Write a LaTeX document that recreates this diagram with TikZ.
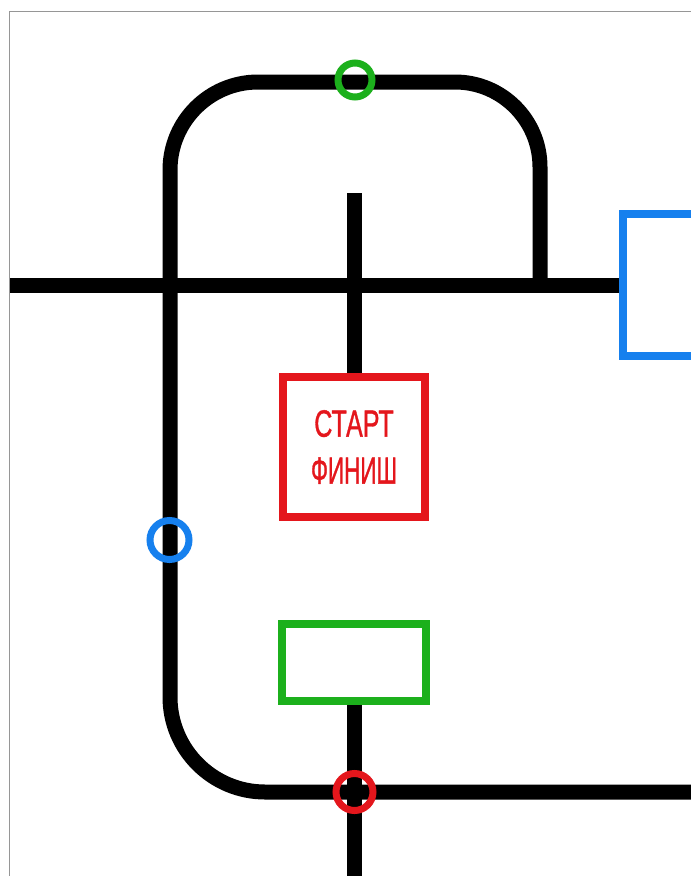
\documentclass[tikz,border=0pt]{standalone}
\usepackage{fontspec}
\setmainfont{Liberation Sans}
\newfontfamily\signfont[FakeBold=1.2]{Liberation Sans}
\usetikzlibrary{backgrounds}
\definecolor{trackred}{RGB}{228,22,28}
\definecolor{trackgreen}{RGB}{28,176,28}
\definecolor{trackblue}{RGB}{22,128,238}
\definecolor{framegray}{RGB}{150,150,150}
\begin{document}
\begin{tikzpicture}[x=1pt,y=-1pt,
  track/.style={line width=15pt, black},
  boxbase/.style={rectangle, draw, line width=8pt, outer sep=0pt, inner sep=0pt},
  redbox/.style={boxbase, draw=trackred, text=trackred, align=center,
                 font=\signfont\fontsize{38pt}{47pt}\selectfont},
  greenbox/.style={boxbase, draw=trackgreen},
  bluebox/.style={boxbase, draw=trackblue},
  marker/.style={circle, draw, line width=7pt, outer sep=0pt, inner sep=0pt}]
\useasboundingbox (0,0) rectangle (691,876);
\clip (0,0) rectangle (691,876);

% nodes
\node[redbox, minimum width=142pt, minimum height=140pt] (start) at (354,447)
  {\scalebox{0.66}[1]{СТАРТ}\\\scalebox{0.59}[1]{ФИНИШ}};
\node[greenbox, minimum width=144pt, minimum height=77pt] (garage) at (354,662.5) {};
\node[bluebox, minimum width=160pt, minimum height=142pt, anchor=west] (zone) at (623,285) {};

\coordinate (hl) at (10,285);
\coordinate (rv) at (540,292.5);
\coordinate (le) at (700,792);
\coordinate (tv) at (354,193);
\coordinate (bv) at (354,890);

\begin{scope}[on background layer]
  \fill[white] (0,0) rectangle (691,876);
  \draw[framegray, line width=1.5pt] (9.5,880) -- (9.5,11.5) -- (700,11.5);
  \draw[track] (hl) -- (zone.west);
  \draw[track] (rv) [rounded corners=85pt] -- (540,82) [rounded corners=88pt] -- (170,82)
     [rounded corners=95pt] -- (170,792) -- (le);
  \draw[track] (tv) -- (start.north);
  \draw[track] (garage.south) -- (bv);
\end{scope}

% markers
\node[marker, draw=trackgreen, minimum size=34pt] (mgreen) at (355,80) {};
\node[marker, draw=trackblue, minimum size=39pt] (mblue) at (169.5,540) {};
\node[marker, draw=trackred, minimum size=37pt] (mred) at (354.5,792) {};
\end{tikzpicture}
\end{document}
